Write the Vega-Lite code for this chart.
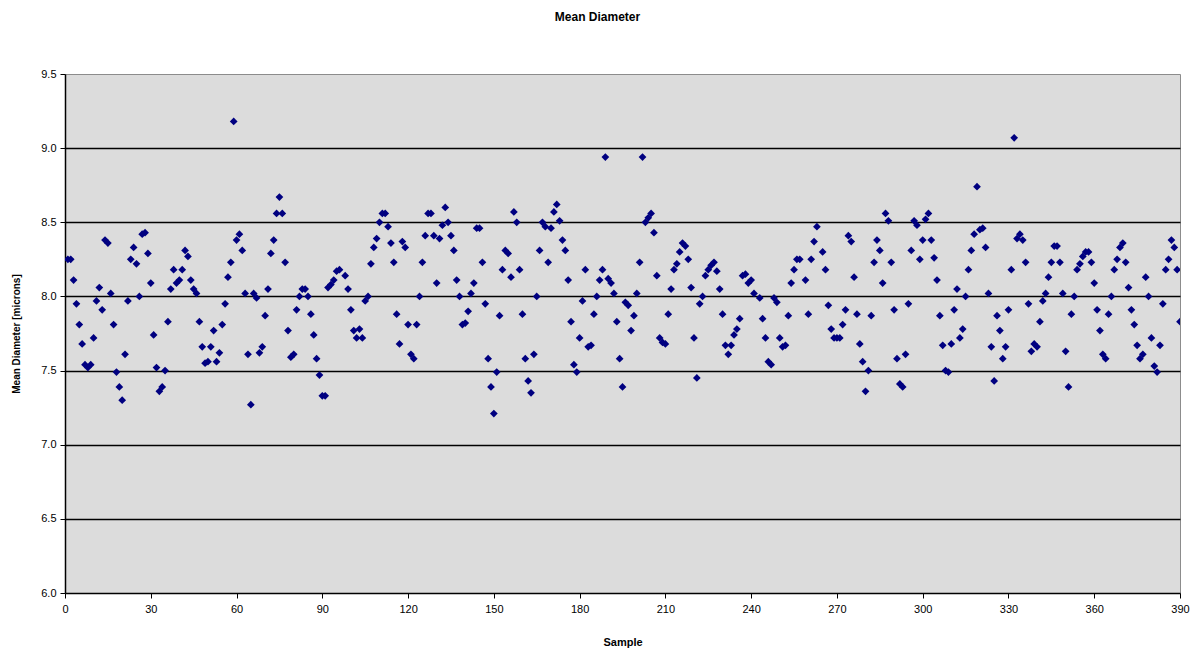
{
  "$schema": "https://vega.github.io/schema/vega-lite/v6.json",
  "width": 1115,
  "height": 519,
  "autosize": {"type": "none"},
  "padding": {"left": 65, "top": 74, "right": 17, "bottom": 59},
  "background": "white",
  "title": {
    "text": "Mean Diameter",
    "font": "Liberation Sans",
    "fontSize": 12,
    "fontWeight": "bold",
    "color": "black",
    "anchor": "middle",
    "dx": -25,
    "offset": 44
  },
  "config": {
    "view": {"fill": "#dcdcdc", "stroke": "#8c8c8c", "strokeWidth": 1},
    "axis": {
      "labelFont": "Liberation Sans",
      "labelFontSize": 11,
      "labelColor": "black",
      "titleFont": "Liberation Sans",
      "titleColor": "black",
      "titleFontWeight": "bold",
      "domainColor": "black",
      "domainWidth": 1.5,
      "tickColor": "black",
      "tickSize": 5,
      "tickWidth": 1
    }
  },
  "data": {
    "values": [
      {"Sample":1,"Mean":8.25},{"Sample":2,"Mean":8.25},{"Sample":3,"Mean":8.11},{"Sample":4,"Mean":7.95},{"Sample":5,"Mean":7.81},{"Sample":6,"Mean":7.68},{"Sample":7,"Mean":7.54},{"Sample":8,"Mean":7.52},{"Sample":9,"Mean":7.54},{"Sample":10,"Mean":7.72},
      {"Sample":11,"Mean":7.97},{"Sample":12,"Mean":8.06},{"Sample":13,"Mean":7.91},{"Sample":14,"Mean":8.38},{"Sample":15,"Mean":8.36},{"Sample":16,"Mean":8.02},{"Sample":17,"Mean":7.81},{"Sample":18,"Mean":7.49},{"Sample":19,"Mean":7.39},{"Sample":20,"Mean":7.30},
      {"Sample":21,"Mean":7.61},{"Sample":22,"Mean":7.97},{"Sample":23,"Mean":8.25},{"Sample":24,"Mean":8.33},{"Sample":25,"Mean":8.22},{"Sample":26,"Mean":8.00},{"Sample":27,"Mean":8.42},{"Sample":28,"Mean":8.43},{"Sample":29,"Mean":8.29},{"Sample":30,"Mean":8.09},
      {"Sample":31,"Mean":7.74},{"Sample":32,"Mean":7.52},{"Sample":33,"Mean":7.36},{"Sample":34,"Mean":7.39},{"Sample":35,"Mean":7.50},{"Sample":36,"Mean":7.83},{"Sample":37,"Mean":8.05},{"Sample":38,"Mean":8.18},{"Sample":39,"Mean":8.09},{"Sample":40,"Mean":8.11},
      {"Sample":41,"Mean":8.18},{"Sample":42,"Mean":8.31},{"Sample":43,"Mean":8.27},{"Sample":44,"Mean":8.11},{"Sample":45,"Mean":8.05},{"Sample":46,"Mean":8.02},{"Sample":47,"Mean":7.83},{"Sample":48,"Mean":7.66},{"Sample":49,"Mean":7.55},{"Sample":50,"Mean":7.56},
      {"Sample":51,"Mean":7.66},{"Sample":52,"Mean":7.77},{"Sample":53,"Mean":7.56},{"Sample":54,"Mean":7.62},{"Sample":55,"Mean":7.81},{"Sample":56,"Mean":7.95},{"Sample":57,"Mean":8.13},{"Sample":58,"Mean":8.23},{"Sample":59,"Mean":9.18},{"Sample":60,"Mean":8.38},
      {"Sample":61,"Mean":8.42},{"Sample":62,"Mean":8.31},{"Sample":63,"Mean":8.02},{"Sample":64,"Mean":7.61},{"Sample":65,"Mean":7.27},{"Sample":66,"Mean":8.02},{"Sample":67,"Mean":7.99},{"Sample":68,"Mean":7.62},{"Sample":69,"Mean":7.66},{"Sample":70,"Mean":7.87},
      {"Sample":71,"Mean":8.05},{"Sample":72,"Mean":8.29},{"Sample":73,"Mean":8.38},{"Sample":74,"Mean":8.56},{"Sample":75,"Mean":8.67},{"Sample":76,"Mean":8.56},{"Sample":77,"Mean":8.23},{"Sample":78,"Mean":7.77},{"Sample":79,"Mean":7.59},{"Sample":80,"Mean":7.61},
      {"Sample":81,"Mean":7.91},{"Sample":82,"Mean":8.00},{"Sample":83,"Mean":8.05},{"Sample":84,"Mean":8.05},{"Sample":85,"Mean":8.00},{"Sample":86,"Mean":7.88},{"Sample":87,"Mean":7.74},{"Sample":88,"Mean":7.58},{"Sample":89,"Mean":7.47},{"Sample":90,"Mean":7.33},
      {"Sample":91,"Mean":7.33},{"Sample":92,"Mean":8.06},{"Sample":93,"Mean":8.08},{"Sample":94,"Mean":8.11},{"Sample":95,"Mean":8.17},{"Sample":96,"Mean":8.18},{"Sample":98,"Mean":8.14},{"Sample":99,"Mean":8.05},{"Sample":100,"Mean":7.91},
      {"Sample":101,"Mean":7.77},{"Sample":102,"Mean":7.72},{"Sample":103,"Mean":7.78},{"Sample":104,"Mean":7.72},{"Sample":105,"Mean":7.97},{"Sample":106,"Mean":8.00},{"Sample":107,"Mean":8.22},{"Sample":108,"Mean":8.33},{"Sample":109,"Mean":8.39},{"Sample":110,"Mean":8.50},
      {"Sample":111,"Mean":8.56},{"Sample":112,"Mean":8.56},{"Sample":113,"Mean":8.47},{"Sample":114,"Mean":8.36},{"Sample":115,"Mean":8.23},{"Sample":116,"Mean":7.88},{"Sample":117,"Mean":7.68},{"Sample":118,"Mean":8.37},{"Sample":119,"Mean":8.33},{"Sample":120,"Mean":7.81},
      {"Sample":121,"Mean":7.61},{"Sample":122,"Mean":7.58},{"Sample":123,"Mean":7.81},{"Sample":124,"Mean":8.00},{"Sample":125,"Mean":8.23},{"Sample":126,"Mean":8.41},{"Sample":127,"Mean":8.56},{"Sample":128,"Mean":8.56},{"Sample":129,"Mean":8.41},{"Sample":130,"Mean":8.09},
      {"Sample":131,"Mean":8.39},{"Sample":132,"Mean":8.48},{"Sample":133,"Mean":8.60},{"Sample":134,"Mean":8.50},{"Sample":135,"Mean":8.41},{"Sample":136,"Mean":8.31},{"Sample":137,"Mean":8.11},{"Sample":138,"Mean":8.00},{"Sample":139,"Mean":7.81},{"Sample":140,"Mean":7.82},
      {"Sample":141,"Mean":7.90},{"Sample":142,"Mean":8.02},{"Sample":143,"Mean":8.09},{"Sample":144,"Mean":8.46},{"Sample":145,"Mean":8.46},{"Sample":146,"Mean":8.23},{"Sample":147,"Mean":7.95},{"Sample":148,"Mean":7.58},{"Sample":149,"Mean":7.39},{"Sample":150,"Mean":7.21},
      {"Sample":151,"Mean":7.49},{"Sample":152,"Mean":7.87},{"Sample":153,"Mean":8.18},{"Sample":154,"Mean":8.31},{"Sample":155,"Mean":8.29},{"Sample":156,"Mean":8.13},{"Sample":157,"Mean":8.57},{"Sample":158,"Mean":8.50},{"Sample":159,"Mean":8.18},{"Sample":160,"Mean":7.88},
      {"Sample":161,"Mean":7.58},{"Sample":162,"Mean":7.43},{"Sample":163,"Mean":7.35},{"Sample":164,"Mean":7.61},{"Sample":165,"Mean":8.00},{"Sample":166,"Mean":8.31},{"Sample":167,"Mean":8.50},{"Sample":168,"Mean":8.47},{"Sample":169,"Mean":8.23},{"Sample":170,"Mean":8.46},
      {"Sample":171,"Mean":8.57},{"Sample":172,"Mean":8.62},{"Sample":173,"Mean":8.51},{"Sample":174,"Mean":8.38},{"Sample":175,"Mean":8.31},{"Sample":176,"Mean":8.11},{"Sample":177,"Mean":7.83},{"Sample":178,"Mean":7.54},{"Sample":179,"Mean":7.49},{"Sample":180,"Mean":7.72},
      {"Sample":181,"Mean":7.97},{"Sample":182,"Mean":8.18},{"Sample":183,"Mean":7.66},{"Sample":184,"Mean":7.67},{"Sample":185,"Mean":7.88},{"Sample":186,"Mean":8.00},{"Sample":187,"Mean":8.11},{"Sample":188,"Mean":8.18},{"Sample":189,"Mean":8.94},{"Sample":190,"Mean":8.12},
      {"Sample":191,"Mean":8.09},{"Sample":192,"Mean":8.02},{"Sample":193,"Mean":7.83},{"Sample":194,"Mean":7.58},{"Sample":195,"Mean":7.39},{"Sample":196,"Mean":7.96},{"Sample":197,"Mean":7.94},{"Sample":198,"Mean":7.77},{"Sample":199,"Mean":7.87},{"Sample":200,"Mean":8.02},
      {"Sample":201,"Mean":8.23},{"Sample":202,"Mean":8.94},{"Sample":203,"Mean":8.50},{"Sample":204,"Mean":8.53},{"Sample":205,"Mean":8.56},{"Sample":206,"Mean":8.43},{"Sample":207,"Mean":8.14},{"Sample":208,"Mean":7.72},{"Sample":209,"Mean":7.69},{"Sample":210,"Mean":7.68},
      {"Sample":211,"Mean":7.88},{"Sample":212,"Mean":8.05},{"Sample":213,"Mean":8.18},{"Sample":214,"Mean":8.22},{"Sample":215,"Mean":8.30},{"Sample":216,"Mean":8.36},{"Sample":217,"Mean":8.34},{"Sample":218,"Mean":8.25},{"Sample":219,"Mean":8.06},{"Sample":220,"Mean":7.72},
      {"Sample":221,"Mean":7.45},{"Sample":222,"Mean":7.95},{"Sample":223,"Mean":8.00},{"Sample":224,"Mean":8.14},{"Sample":225,"Mean":8.18},{"Sample":226,"Mean":8.21},{"Sample":227,"Mean":8.23},{"Sample":228,"Mean":8.17},{"Sample":229,"Mean":8.05},{"Sample":230,"Mean":7.88},
      {"Sample":231,"Mean":7.67},{"Sample":232,"Mean":7.61},{"Sample":233,"Mean":7.67},{"Sample":234,"Mean":7.74},{"Sample":235,"Mean":7.78},{"Sample":236,"Mean":7.85},{"Sample":237,"Mean":8.14},{"Sample":238,"Mean":8.15},{"Sample":239,"Mean":8.09},{"Sample":240,"Mean":8.11},
      {"Sample":241,"Mean":8.02},{"Sample":243,"Mean":7.99},{"Sample":244,"Mean":7.85},{"Sample":245,"Mean":7.72},{"Sample":246,"Mean":7.56},{"Sample":247,"Mean":7.54},{"Sample":248,"Mean":7.99},{"Sample":249,"Mean":7.96},{"Sample":250,"Mean":7.72},
      {"Sample":251,"Mean":7.66},{"Sample":252,"Mean":7.67},{"Sample":253,"Mean":7.87},{"Sample":254,"Mean":8.09},{"Sample":255,"Mean":8.18},{"Sample":256,"Mean":8.25},{"Sample":257,"Mean":8.25},{"Sample":259,"Mean":8.11},{"Sample":260,"Mean":7.88},
      {"Sample":261,"Mean":8.25},{"Sample":262,"Mean":8.37},{"Sample":263,"Mean":8.47},{"Sample":265,"Mean":8.30},{"Sample":266,"Mean":8.18},{"Sample":267,"Mean":7.94},{"Sample":268,"Mean":7.78},{"Sample":269,"Mean":7.72},{"Sample":270,"Mean":7.72},
      {"Sample":271,"Mean":7.72},{"Sample":272,"Mean":7.81},{"Sample":273,"Mean":7.91},{"Sample":274,"Mean":8.41},{"Sample":275,"Mean":8.37},{"Sample":276,"Mean":8.13},{"Sample":277,"Mean":7.88},{"Sample":278,"Mean":7.68},{"Sample":279,"Mean":7.56},{"Sample":280,"Mean":7.36},
      {"Sample":281,"Mean":7.50},{"Sample":282,"Mean":7.87},{"Sample":283,"Mean":8.23},{"Sample":284,"Mean":8.38},{"Sample":285,"Mean":8.31},{"Sample":286,"Mean":8.09},{"Sample":287,"Mean":8.56},{"Sample":288,"Mean":8.51},{"Sample":289,"Mean":8.23},{"Sample":290,"Mean":7.91},
      {"Sample":291,"Mean":7.58},{"Sample":292,"Mean":7.41},{"Sample":293,"Mean":7.39},{"Sample":294,"Mean":7.61},{"Sample":295,"Mean":7.95},{"Sample":296,"Mean":8.31},{"Sample":297,"Mean":8.51},{"Sample":298,"Mean":8.48},{"Sample":299,"Mean":8.25},{"Sample":300,"Mean":8.38},
      {"Sample":301,"Mean":8.52},{"Sample":302,"Mean":8.56},{"Sample":303,"Mean":8.38},{"Sample":304,"Mean":8.26},{"Sample":305,"Mean":8.11},{"Sample":306,"Mean":7.87},{"Sample":307,"Mean":7.67},{"Sample":308,"Mean":7.50},{"Sample":309,"Mean":7.49},{"Sample":310,"Mean":7.68},
      {"Sample":311,"Mean":7.91},{"Sample":312,"Mean":8.05},{"Sample":313,"Mean":7.72},{"Sample":314,"Mean":7.78},{"Sample":315,"Mean":8.00},{"Sample":316,"Mean":8.18},{"Sample":317,"Mean":8.31},{"Sample":318,"Mean":8.42},{"Sample":319,"Mean":8.74},{"Sample":320,"Mean":8.45},
      {"Sample":321,"Mean":8.46},{"Sample":322,"Mean":8.33},{"Sample":323,"Mean":8.02},{"Sample":324,"Mean":7.66},{"Sample":325,"Mean":7.43},{"Sample":326,"Mean":7.87},{"Sample":327,"Mean":7.77},{"Sample":328,"Mean":7.58},{"Sample":329,"Mean":7.66},{"Sample":330,"Mean":7.91},
      {"Sample":331,"Mean":8.18},{"Sample":332,"Mean":9.07},{"Sample":333,"Mean":8.39},{"Sample":334,"Mean":8.42},{"Sample":335,"Mean":8.38},{"Sample":336,"Mean":8.23},{"Sample":337,"Mean":7.95},{"Sample":338,"Mean":7.63},{"Sample":339,"Mean":7.68},{"Sample":340,"Mean":7.66},
      {"Sample":341,"Mean":7.83},{"Sample":342,"Mean":7.97},{"Sample":343,"Mean":8.02},{"Sample":344,"Mean":8.13},{"Sample":345,"Mean":8.23},{"Sample":346,"Mean":8.34},{"Sample":347,"Mean":8.34},{"Sample":348,"Mean":8.23},{"Sample":349,"Mean":8.02},{"Sample":350,"Mean":7.63},
      {"Sample":351,"Mean":7.39},{"Sample":352,"Mean":7.88},{"Sample":353,"Mean":8.00},{"Sample":354,"Mean":8.18},{"Sample":355,"Mean":8.22},{"Sample":356,"Mean":8.27},{"Sample":357,"Mean":8.30},{"Sample":358,"Mean":8.30},{"Sample":359,"Mean":8.23},{"Sample":360,"Mean":8.09},
      {"Sample":361,"Mean":7.91},{"Sample":362,"Mean":7.77},{"Sample":363,"Mean":7.61},{"Sample":364,"Mean":7.58},{"Sample":365,"Mean":7.88},{"Sample":366,"Mean":8.00},{"Sample":367,"Mean":8.18},{"Sample":368,"Mean":8.25},{"Sample":369,"Mean":8.33},{"Sample":370,"Mean":8.36},
      {"Sample":371,"Mean":8.23},{"Sample":372,"Mean":8.06},{"Sample":373,"Mean":7.91},{"Sample":374,"Mean":7.81},{"Sample":375,"Mean":7.67},{"Sample":376,"Mean":7.58},{"Sample":377,"Mean":7.61},{"Sample":378,"Mean":8.13},{"Sample":379,"Mean":8.00},{"Sample":380,"Mean":7.72},
      {"Sample":381,"Mean":7.53},{"Sample":382,"Mean":7.49},{"Sample":383,"Mean":7.67},{"Sample":384,"Mean":7.95},{"Sample":385,"Mean":8.18},{"Sample":386,"Mean":8.25},{"Sample":387,"Mean":8.38},{"Sample":388,"Mean":8.33},{"Sample":389,"Mean":8.18},{"Sample":390,"Mean":7.83}
    ]
  },
  "mark": {"type": "point", "shape": "diamond", "filled": true, "color": "#000080", "size": 60, "opacity": 1, "clip": true},
  "encoding": {
    "x": {
      "field": "Sample",
      "type": "quantitative",
      "scale": {"domain": [0, 390], "nice": false, "zero": false},
      "axis": {
        "title": "Sample",
        "titleFontSize": 11,
        "titlePadding": 22,
        "values": [0, 30, 60, 90, 120, 150, 180, 210, 240, 270, 300, 330, 360, 390],
        "grid": false,
        "labelPadding": 5,
        "labelFlush": false
      }
    },
    "y": {
      "field": "Mean",
      "type": "quantitative",
      "scale": {"domain": [6, 9.5], "nice": false, "zero": false},
      "axis": {
        "title": "Mean Diameter [microns]",
        "titleFontSize": 10,
        "titlePadding": 19,
        "values": [6, 6.5, 7, 7.5, 8, 8.5, 9, 9.5],
        "format": ".1f",
        "grid": true,
        "gridColor": {"condition": {"test": "datum.value >= 9.5 || datum.value <= 6", "value": "transparent"}, "value": "black"},
        "gridWidth": 1.6,
        "labelPadding": 4,
        "labelFlush": false
      }
    }
  }
}
